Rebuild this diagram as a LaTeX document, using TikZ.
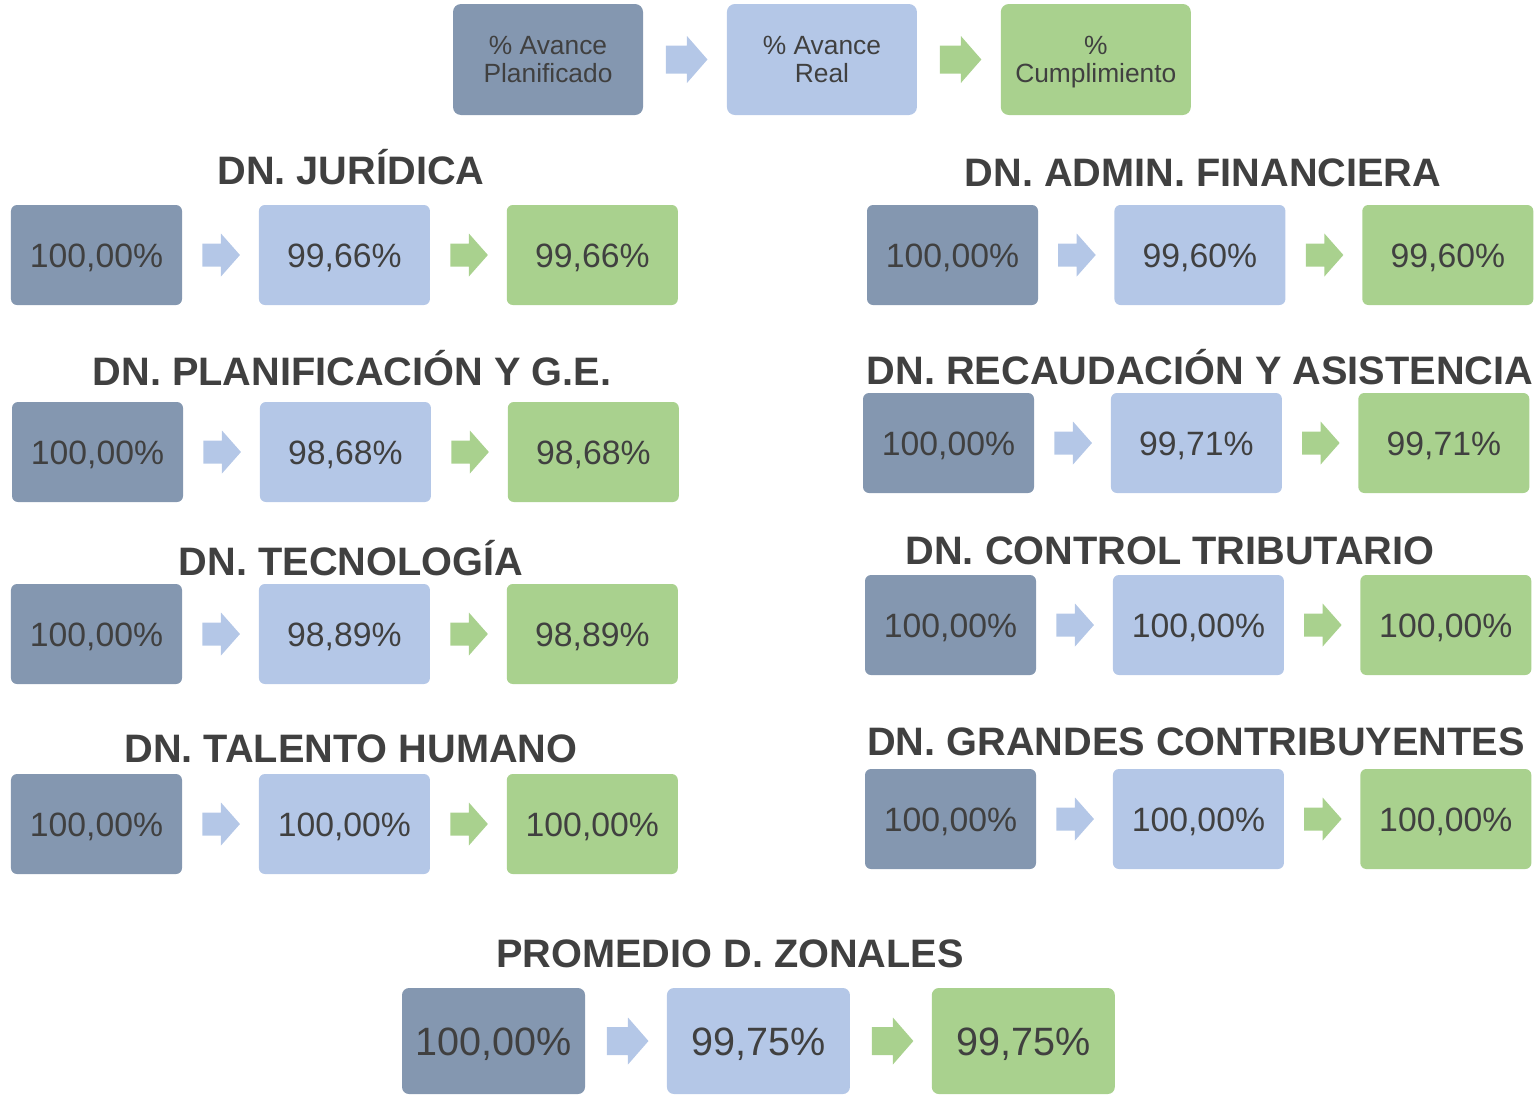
\documentclass[tikz,border=0pt]{standalone}
\usepackage{fontspec}
\setmainfont{Liberation Sans}
\usetikzlibrary{positioning, calc}

\definecolor{planif}{HTML}{8497B0}
\definecolor{real}{HTML}{B4C7E7}
\definecolor{cumpl}{HTML}{A9D18E}
\definecolor{texto}{HTML}{404040}

\begin{document}
\begin{tikzpicture}[
  caja/.style={rounded corners=0.06cm, minimum width=1.71cm, minimum height=1cm,
    inner sep=0pt, text=texto, font=\fontsize{9.6}{11}\selectfont,
    text height=6.9pt, text depth=0pt},
  leyenda/.style={rounded corners=0.08cm, minimum width=1.9cm, minimum height=1.11cm,
    inner sep=0pt, text=texto, align=center, font=\fontsize{7.5}{8}\selectfont,
    text depth=0pt},
  grande/.style={caja, rounded corners=0.07cm, minimum width=1.83cm, minimum height=1.06cm,
    font=\fontsize{11.25}{13}\selectfont, text height=8.05pt},
  titulo/.style={text=texto, font=\fontsize{11.3}{13}\bfseries\selectfont,
    inner sep=0pt, text height=8.1pt, text depth=0pt}
]
  \useasboundingbox (0,0) rectangle (15.37,-10.94);

  % Legend
  \node[leyenda, fill=planif] (leg1) at (5.48,-0.595) {\% Avance\\Planificado};
  \node[leyenda, fill=real, right=0.825cm of leg1] (leg2) {\% Avance\\Real};
  \node[leyenda, fill=cumpl, right=0.825cm of leg2] (leg3) {\%\\Cumplimiento};

  % DN. Juridica
  \node[titulo] (tju) at (3.51,-1.70) {DN. JURÍDICA};
  \node[caja, fill=planif] (ju1) at (0.965,-2.55) {100,00\%};
  \node[caja, fill=real, right=0.755cm of ju1] (ju2) {99,66\%};
  \node[caja, fill=cumpl, right=0.755cm of ju2] (ju3) {99,66\%};

  % DN. Planificacion
  \node[titulo] (tpl) at (3.52,-3.71) {DN. PLANIFICACIÓN Y G.E.};
  \node[caja, fill=planif] (pl1) at (0.975,-4.52) {100,00\%};
  \node[caja, fill=real, right=0.755cm of pl1] (pl2) {98,68\%};
  \node[caja, fill=cumpl, right=0.755cm of pl2] (pl3) {98,68\%};

  % DN. Tecnologia
  \node[titulo] (tte) at (3.51,-5.61) {DN. TECNOLOGÍA};
  \node[caja, fill=planif] (te1) at (0.965,-6.34) {100,00\%};
  \node[caja, fill=real, right=0.755cm of te1] (te2) {98,89\%};
  \node[caja, fill=cumpl, right=0.755cm of te2] (te3) {98,89\%};

  % DN. Talento Humano
  \node[titulo] (tta) at (3.51,-7.48) {DN. TALENTO HUMANO};
  \node[caja, fill=planif] (ta1) at (0.965,-8.24) {100,00\%};
  \node[caja, fill=real, right=0.755cm of ta1] (ta2) {100,00\%};
  \node[caja, fill=cumpl, right=0.755cm of ta2] (ta3) {100,00\%};

  % DN. Admin. Financiera
  \node[titulo] (tad) at (12.03,-1.72) {DN. ADMIN. FINANCIERA};
  \node[caja, fill=planif] (ad1) at (9.525,-2.55) {100,00\%};
  \node[caja, fill=real, right=0.75cm of ad1] (ad2) {99,60\%};
  \node[caja, fill=cumpl, right=0.755cm of ad2] (ad3) {99,60\%};

  % DN. Recaudacion
  \node[titulo] (tre) at (12.00,-3.70) {DN. RECAUDACIÓN Y ASISTENCIA};
  \node[caja, fill=planif] (re1) at (9.485,-4.43) {100,00\%};
  \node[caja, fill=real, right=0.755cm of re1] (re2) {99,71\%};
  \node[caja, fill=cumpl, right=0.75cm of re2] (re3) {99,71\%};

  % DN. Control Tributario
  \node[titulo] (tco) at (11.70,-5.50) {DN. CONTROL TRIBUTARIO};
  \node[caja, fill=planif] (co1) at (9.505,-6.25) {100,00\%};
  \node[caja, fill=real, right=0.755cm of co1] (co2) {100,00\%};
  \node[caja, fill=cumpl, right=0.75cm of co2] (co3) {100,00\%};

  % DN. Grandes Contribuyentes
  \node[titulo] (tgr) at (11.96,-7.41) {DN. GRANDES CONTRIBUYENTES};
  \node[caja, fill=planif] (gr1) at (9.505,-8.19) {100,00\%};
  \node[caja, fill=real, right=0.755cm of gr1] (gr2) {100,00\%};
  \node[caja, fill=cumpl, right=0.75cm of gr2] (gr3) {100,00\%};

  % Promedio
  \node[titulo] (tpr) at (7.30,-9.53) {PROMEDIO D. ZONALES};
  \node[grande, fill=planif] (pr1) at (4.935,-10.41) {100,00\%};
  \node[grande, fill=real, right=0.805cm of pr1] (pr2) {99,75\%};
  \node[grande, fill=cumpl, right=0.805cm of pr2] (pr3) {99,75\%};

  % Block arrows
  \foreach \a/\b/\c in {ju1/ju2/real, ju2/ju3/cumpl, pl1/pl2/real, pl2/pl3/cumpl,
      te1/te2/real, te2/te3/cumpl, ta1/ta2/real, ta2/ta3/cumpl,
      ad1/ad2/real, ad2/ad3/cumpl, re1/re2/real, re2/re3/cumpl,
      co1/co2/real, co2/co3/cumpl, gr1/gr2/real, gr2/gr3/cumpl}
    \fill[\c, shift={($(\a.east)!0.5!(\b.west)$)}]
      (-0.18,0.115) -- (0.005,0.115) -- (0.005,0.215) -- (0.195,0)
      -- (0.005,-0.215) -- (0.005,-0.115) -- (-0.18,-0.115) -- cycle;

  \foreach \a/\b/\c in {leg1/leg2/real, leg2/leg3/cumpl, pr1/pr2/real, pr2/pr3/cumpl}
    \fill[\c, shift={($(\a.east)!0.5!(\b.west)$)}]
      (-0.19,0.14) -- (0.02,0.14) -- (0.02,0.235) -- (0.225,0)
      -- (0.02,-0.235) -- (0.02,-0.14) -- (-0.19,-0.14) -- cycle;
\end{tikzpicture}
\end{document}
